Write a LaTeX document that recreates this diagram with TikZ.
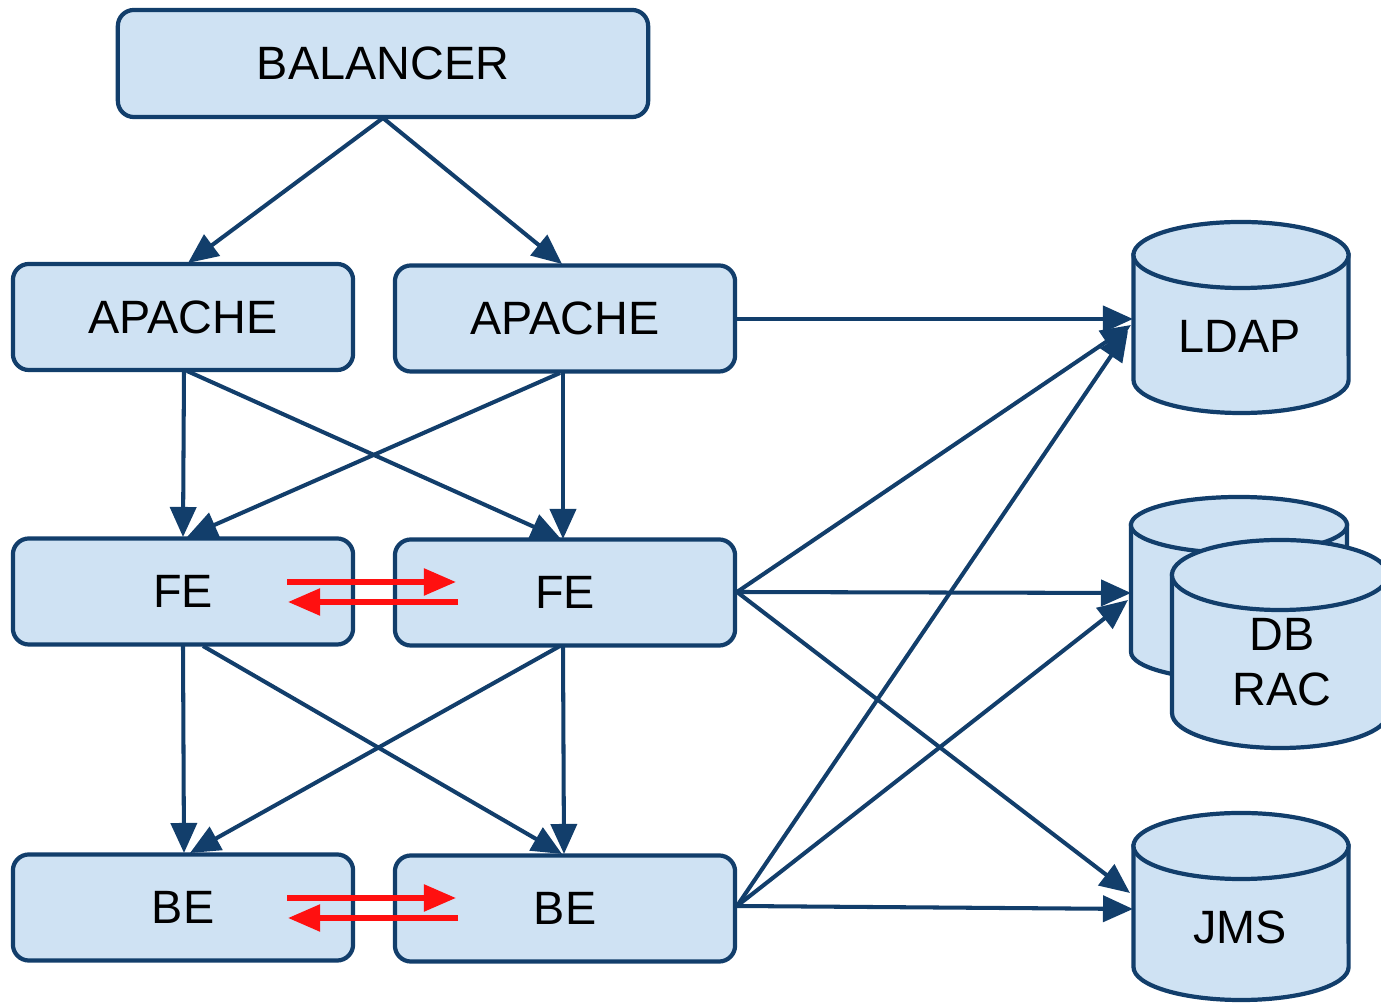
\documentclass[tikz,border=0pt]{standalone}
\usepackage{fontspec}
\setmainfont{Liberation Sans}
\usetikzlibrary{arrows.meta}
\definecolor{boxfill}{HTML}{CFE2F3}
\definecolor{navy}{HTML}{123E6B}
\definecolor{redarr}{HTML}{FF1010}
\tikzset{
  box/.style={draw=navy, fill=boxfill, line width=1.2pt, rounded corners=0.16cm,
    minimum width=3.4cm, minimum height=1.06cm, inner sep=0pt,
    font=\fontsize{13.3}{16}\selectfont},
  widebox/.style={box, minimum width=5.3cm, minimum height=1.07cm},
  link/.style={draw=navy, line width=1.15pt, -{Triangle[length=0.3cm,width=0.26cm]}},
  sync/.style={draw=redarr, line width=1.5pt, -{Triangle[length=0.32cm,width=0.26cm]}},
  cyl/.style={draw=navy, fill=boxfill, line width=1.2pt},
  cyltext/.style={font=\fontsize{13.3}{15.6}\selectfont, align=center, inner sep=0pt}
}
\newcommand{\drawcyl}[6]{% cx, ytop, ybot, rx(px), rx(cm), ry(cm)
  \filldraw[cyl] ({#1-#4},#2) -- ({#1-#4},#3) arc[start angle=180,end angle=360,x radius=#5cm,y radius=#6cm] -- ({#1+#4},#2) -- cycle;
  \filldraw[cyl] (#1,#2) ellipse[x radius=#5cm, y radius=#6cm];
}
\begin{document}
\begin{tikzpicture}[x=0.01cm,y=-0.01cm]
\useasboundingbox (0,0) rectangle (1381,1004);

% boxes
\node[widebox] (bal) at (383,63.5) {BALANCER};
\node[box] (ap1) at (183,317) {APACHE};
\node[box] (ap2) at (565,318.5) {APACHE};
\node[box] (fe1) at (183,591.5) {FE};
\node[box] (fe2) at (565,592.5) {FE};
\node[box] (be1) at (183,907.5) {BE};
\node[box] (be2) at (565,908.5) {BE};

% cylinders
\begin{scope}
\clip (0,0) rectangle (1381,1004);
\drawcyl{1241}{255}{380}{107.5}{1.075}{0.33}
\drawcyl{1239}{525}{652}{108}{1.08}{0.28}
\drawcyl{1280}{575}{713}{108}{1.08}{0.35}
\drawcyl{1241}{846}{967}{107.5}{1.075}{0.33}
\end{scope}
\node[cyltext] (ldap) at (1240,336) {LDAP};
\node[cyltext] (db) at (1282,662) {DB\\RAC};
\node[cyltext] (jms) at (1240,927) {JMS};

% connector anchor points
\coordinate (balb) at (383,118);
\coordinate (ap1t) at (188,263);
\coordinate (ap2t) at (562,264);
\coordinate (ap1b) at (184,371);
\coordinate (ap1bd) at (187,371);
\coordinate (ap2b) at (563,373);
\coordinate (ap2bd) at (560,373);
\coordinate (fe1t) at (183,537);
\coordinate (fe1td) at (187,537);
\coordinate (fe2t) at (563,539);
\coordinate (fe2td) at (561,539);
\coordinate (fe1b) at (183,646);
\coordinate (fe1bd) at (203,646);
\coordinate (fe2b) at (563,646);
\coordinate (fe2bd) at (560,646);
\coordinate (be1t) at (184,853);
\coordinate (be1td) at (190,853);
\coordinate (be2t) at (564,854);
\coordinate (be2td) at (562,854);
\coordinate (ap2r) at (736,319);
\coordinate (fe2r) at (737,592);
\coordinate (be2r) at (737,906);
\coordinate (ldapin1) at (1133,319);
\coordinate (ldapin2) at (1131,325);
\coordinate (ldapin3) at (1128,331);
\coordinate (dbin1) at (1131,593);
\coordinate (dbin2) at (1128,600);
\coordinate (jmsin1) at (1130,893);
\coordinate (jmsin2) at (1133,909);

% connectors
\draw[link] (balb) -- (ap1t);
\draw[link] (balb) -- (ap2t);
\draw[link] (ap1b) -- (fe1t);
\draw[link] (ap1bd) -- (fe2td);
\draw[link] (ap2bd) -- (fe1td);
\draw[link] (ap2b) -- (fe2t);
\draw[link] (fe1b) -- (be1t);
\draw[link] (fe1bd) -- (be2td);
\draw[link] (fe2bd) -- (be1td);
\draw[link] (fe2b) -- (be2t);
\draw[link] (ap2r) -- (ldapin1);
\draw[link] (fe2r) -- (ldapin2);
\draw[link] (be2r) -- (ldapin3);
\draw[link] (fe2r) -- (dbin1);
\draw[link] (be2r) -- (dbin2);
\draw[link] (fe2r) -- (jmsin1);
\draw[link] (be2r) -- (jmsin2);

% red sync arrows
\coordinate (fes1) at (287,582);
\coordinate (fes2) at (456,582);
\coordinate (fes3) at (458,602);
\coordinate (fes4) at (288,602);
\coordinate (bes1) at (287,898);
\coordinate (bes2) at (456,898);
\coordinate (bes3) at (458,918);
\coordinate (bes4) at (288,918);
\draw[sync] (fes1) -- (fes2);
\draw[sync] (fes3) -- (fes4);
\draw[sync] (bes1) -- (bes2);
\draw[sync] (bes3) -- (bes4);
\end{tikzpicture}
\end{document}
